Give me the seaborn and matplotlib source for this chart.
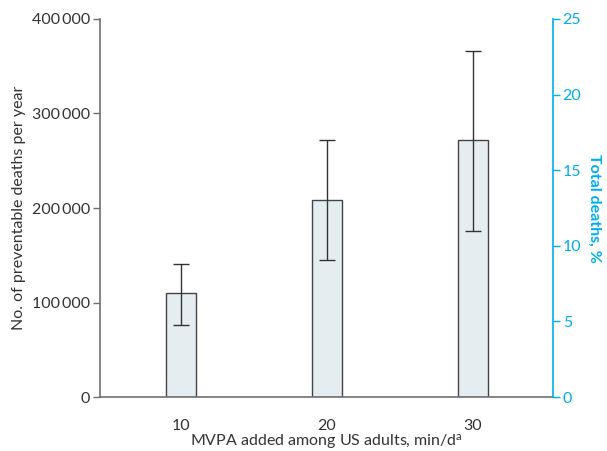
import matplotlib
matplotlib.use("Agg")
import matplotlib.pyplot as plt
import matplotlib.ticker as mticker
import seaborn as sns
import pandas as pd

# data
minutes = ["10", "20", "30"]
deaths = [110000, 208500, 271500]
ci_low = [76500, 144500, 175500]
ci_high = [141000, 271500, 366500]
pct_ticks = [0, 5, 10, 15, 20, 25]

sns.set_theme(style="white")
plt.rcParams['font.family'] = ['Lato', 'DejaVu Sans']
plt.rcParams['mathtext.default'] = 'regular'

grey = "#333333"
spine_grey = "#707070"
cyan = "#00AEEF"

df = pd.DataFrame({"minutes": minutes, "deaths": deaths})

fig = plt.figure(figsize=(6.07, 4.51), dpi=100)
ax = fig.add_axes([0.1647, 0.1197, 0.7463, 0.8382])

sns.barplot(x="minutes", y="deaths", data=df, ax=ax, width=0.21,
            color="#E6EDF1", edgecolor="#444444", linewidth=1.0, errorbar=None,
            saturation=1)
yerr = [[d - lo for d, lo in zip(deaths, ci_low)],
        [hi - d for d, hi in zip(deaths, ci_high)]]
ax.errorbar(x=range(len(minutes)), y=deaths, yerr=yerr, fmt="none",
            ecolor=grey, elinewidth=1.0, capsize=6, capthick=1.0)

ax.set_xlim(-0.555, 2.548)
ax.set_ylim(0, 400000)
ax.set_yticks([0, 100000, 200000, 300000, 400000])
ax.yaxis.set_major_formatter(mticker.FuncFormatter(
    lambda v, p: "0" if v == 0 else f"{int(v/1000)}\u2009000"))
ax.set_xlabel("MVPA added among US adults, min/d$^{a}$", fontsize=11.5,
              color=grey, labelpad=0)
ax.set_ylabel("No. of preventable deaths per year", fontsize=11.5,
              color=grey, labelpad=4)
ax.tick_params(axis="y", left=True, length=5, width=1, color=spine_grey,
               labelsize=11.5, labelcolor=grey, pad=2)
ax.tick_params(axis="x", bottom=False, labelsize=11.5, labelcolor=grey, pad=10)
for s in ["top", "right"]:
    ax.spines[s].set_visible(False)
for s in ["left", "bottom"]:
    ax.spines[s].set_color(spine_grey)
    ax.spines[s].set_linewidth(1.2)

ax2 = ax.twinx()
ax2.set_ylim(0, 25)
ax2.set_yticks(pct_ticks)
ax2.set_ylabel("Total deaths, %", fontsize=11.5, color=cyan, rotation=270,
               labelpad=14, fontweight="bold")
ax2.tick_params(axis="y", right=True, length=5, width=1, color=cyan,
                labelsize=11.5, labelcolor=cyan, pad=2)
for s in ["top", "left", "bottom"]:
    ax2.spines[s].set_visible(False)
ax2.spines["right"].set_color(cyan)
ax2.spines["right"].set_linewidth(1.2)

fig.savefig("out.png", dpi=100)
